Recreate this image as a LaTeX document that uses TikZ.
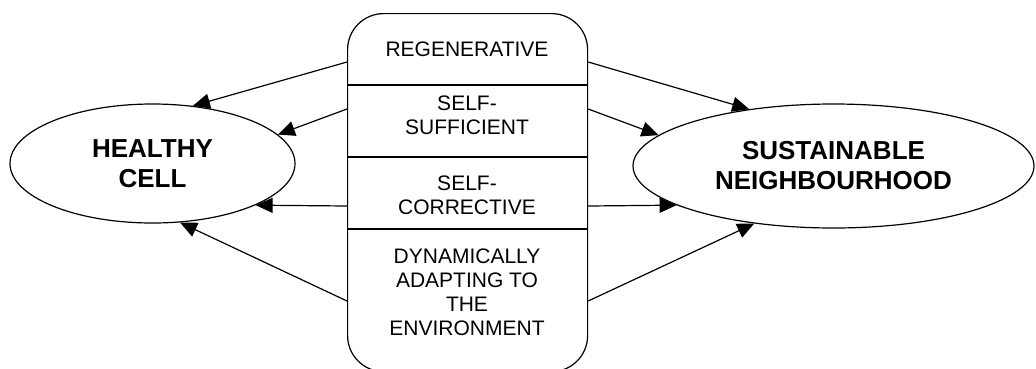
\documentclass[tikz,border=0pt]{standalone}
\usepackage{fontspec}
\setmainfont{Liberation Sans}
\usetikzlibrary{arrows.meta,shapes.geometric}

\begin{document}
\begin{tikzpicture}[> = {Triangle[length=17pt, width=15pt]}, x=1pt, y=-1pt, line width=1.2pt,
    place/.style = {draw, ellipse, inner sep=0pt, align=center,
        font=\fontsize{26}{30}\selectfont\bfseries},
    trait/.style = {align=center, font=\fontsize{21}{24}\selectfont}]
    \useasboundingbox (0, 0) rectangle (1036, 368);
    % Ellipses
    \node [place, minimum width=285pt, minimum height=119pt] (cell) at (152.5, 163.5) {HEALTHY\\CELL};
    \node [place, minimum width=401pt, minimum height=124pt] (hood) at (833.5, 166) {SUSTAINABLE\\NEIGHBOURHOOD};
    % Box
    \node [draw, rounded corners=36pt, minimum width=240pt, minimum height=358pt,
        anchor=north west] (box) at (347, 13) {};
    \foreach \y in {85, 157, 229}
        \draw (box.west |- 0, \y) -- (box.east |- 0, \y);
    \node [trait] (regen) at (467, 49) {REGENERATIVE};
    \node [trait] (suff) at (467, 115) {SELF-\\SUFFICIENT};
    \node [trait] (corr) at (467, 195) {SELF-\\CORRECTIVE};
    \node [trait] (dyn) at (467, 292) {DYNAMICALLY\\ADAPTING TO\\THE\\ENVIRONMENT};
    % Arrows
    \foreach \y/\a/\b in {62/55/146.8, 109/13.8/170.5, 206/-22.6/194.3, 301/-65.9/216.2}{
        \coordinate (w\y) at (box.west |- 0, \y);
        \coordinate (e\y) at (box.east |- 0, \y);
        \draw [->] (w\y) -- (cell.\a);
        \draw [->] (e\y) -- (hood.\b);
    }

\end{tikzpicture}
\end{document}
